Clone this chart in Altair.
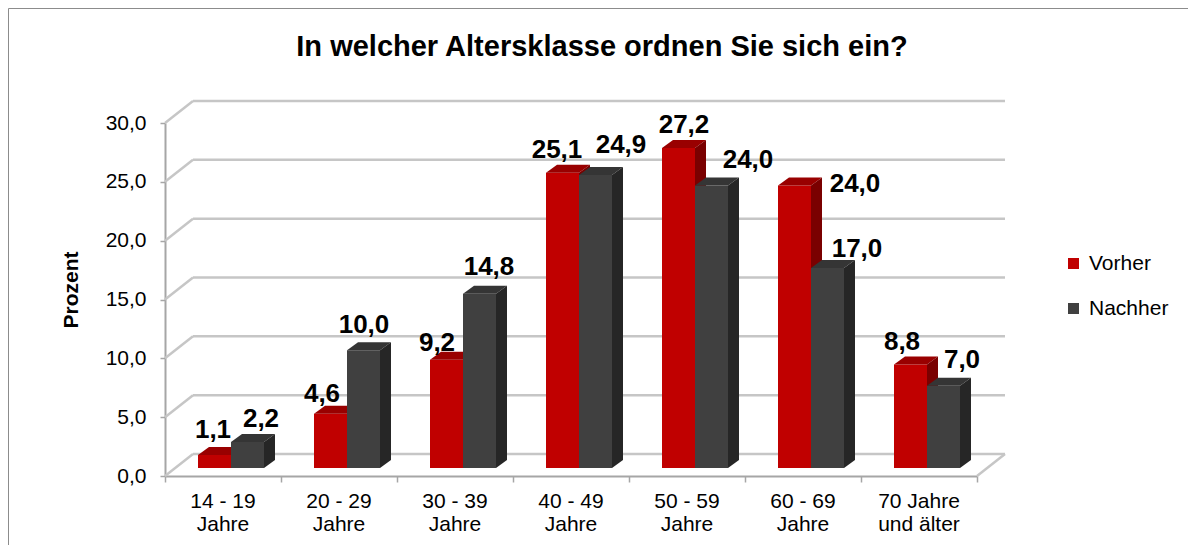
import altair as alt
import pandas as pd

# ---------------- data ----------------
categories = ["14 - 19\nJahre", "20 - 29\nJahre", "30 - 39\nJahre", "40 - 49\nJahre",
              "50 - 59\nJahre", "60 - 69\nJahre", "70 Jahre\nund älter"]
series_names = ["Vorher", "Nachher"]
vorher = [1.1, 4.6, 9.2, 25.1, 27.2, 24.0, 8.8]
nachher = [2.2, 10.0, 14.8, 24.9, 24.0, 17.0, 7.0]
y_ticks = [0, 5, 10, 15, 20, 25, 30]
title_text = "In welcher Altersklasse ordnen Sie sich ein?"
y_title = "Prozent"

# manual placement of the value labels in the original (pixel nudges)
vorher_label_dx = [-1.5, -8.5, -9.5, -5.5, 5.5, 60.5, -8.5]
vorher_label_dy = [-17, -12, -9, -15, -15, 6, -14]
nachher_label_dx = [13.5, 0.5, 9.5, 25.5, 36.5, 29.5, 18.5]
nachher_label_dy = [-15, -17, -19, -22, -18, -11, -18]

# ---------------- geometry / style ----------------
W, H = 812, 353
N = len(categories)
PXX = W / N            # px per category
PXU = H / 30.0         # px per percent
BAR_START = 33 / PXX
BAR_W = 33 / PXX
DEPTH_X = 11 / PXX
DEPTH_Y = 8 / PXU
LIFT = -8              # bars stand a bit behind the front edge
WALL_DX, WALL_DY = 28, -22
FONT = "Liberation Sans"

colors_front = {"Vorher": "#C00000", "Nachher": "#404040"}
colors_top = {"Vorher": "#990000", "Nachher": "#353535"}
colors_side = {"Vorher": "#7A0000", "Nachher": "#262626"}

xscale = alt.Scale(domain=[0, N], nice=False, zero=False)
yscale = alt.Scale(domain=[0, 30], nice=False, zero=False)
xaxis = alt.Axis(values=list(range(N + 1)), labels=False, title=None, grid=False,
                 tickSize=6, tickColor="#A6A6A6", domainColor="#A6A6A6", domainWidth=2, tickWidth=1.5)
yaxis = alt.Axis(values=y_ticks, title=None, grid=False, tickSize=5, tickColor="#A6A6A6",
                 domainColor="#A6A6A6", domainWidth=2, tickWidth=1.5,
                 labelExpr="replace(format(datum.value, '.1f'), '.', ',')",
                 labelFont=FONT, labelFontSize=21, labelColor="#000000", labelPadding=14)

# ---------------- derived tables ----------------
bars, faces_top, faces_side, labels = [], [], [], []
for s, (name, vals, ldx, ldy) in enumerate([
        ("Vorher", vorher, vorher_label_dx, vorher_label_dy),
        ("Nachher", nachher, nachher_label_dx, nachher_label_dy)]):
    for i, v in enumerate(vals):
        xl = i + BAR_START + s * BAR_W
        xr = xl + BAR_W
        bars.append({"series": name, "xl": xl, "xr": xr, "value": v, "base": 0.0})
        fid = f"{name}-{i}"
        for x, y, y2 in [(xl, v, v), (xl + DEPTH_X, v + DEPTH_Y, v),
                         (xr, v + DEPTH_Y, v), (xr + DEPTH_X, v + DEPTH_Y, v + DEPTH_Y)]:
            faces_top.append({"series": name, "face": fid, "x": x, "y": y, "y2": y2})
        for x, y, y2 in [(xr, v, 0.0), (xr + DEPTH_X, v + DEPTH_Y, DEPTH_Y)]:
            faces_side.append({"series": name, "face": fid, "x": x, "y": y, "y2": y2})
        labels.append({"series": name,
                       "lx": (xl + xr) / 2 + ldx[i] / PXX,
                       "ly": v + (-LIFT - ldy[i]) / PXU,
                       "txt": f"{v:.1f}".replace(".", ",")})

bars = pd.DataFrame(bars)
faces_top = pd.DataFrame(faces_top)
faces_side = pd.DataFrame(faces_side)
labels = pd.DataFrame(labels)
grid_df = pd.DataFrame({"v": y_ticks})
cat_df = pd.DataFrame({"cat": categories, "x": [i + 0.5 for i in range(N)]})
title_df = pd.DataFrame({"t": [title_text], "yt": [y_title]})

# ---------------- layers ----------------
border = alt.Chart(title_df).mark_rect(fill=None, stroke="#8C8C8C", strokeWidth=1).encode(
    x=alt.value(-156.5), x2=alt.value(1100), y=alt.value(-114.5), y2=alt.value(600))

back_lines = alt.Chart(grid_df).mark_rule(color="#C6C6C6", strokeWidth=2.5, yOffset=WALL_DY).encode(
    x=alt.value(WALL_DX), x2=alt.value(W + WALL_DX),
    y=alt.Y("v:Q", scale=yscale, axis=yaxis))
connectors = alt.Chart(grid_df).mark_rule(color="#C6C6C6", strokeWidth=2.5, y2Offset=WALL_DY).encode(
    x=alt.value(0), x2=alt.value(WALL_DX),
    y=alt.Y("v:Q", scale=yscale, axis=yaxis), y2="v:Q")
floor_right = alt.Chart(grid_df).transform_filter("datum.v == 0").mark_rule(
    color="#C6C6C6", strokeWidth=2.5, y2Offset=WALL_DY).encode(
    x=alt.value(W), x2=alt.value(W + WALL_DX),
    y=alt.Y("v:Q", scale=yscale, axis=yaxis), y2="v:Q")

color_enc = alt.Color("series:N",
                      scale=alt.Scale(domain=series_names, range=[colors_front[n] for n in series_names]),
                      legend=alt.Legend(orient="none", legendX=898, legendY=130, title=None,
                                        symbolType="square", symbolSize=121, symbolStrokeWidth=0,
                                        labelFont=FONT, labelFontSize=21, labelColor="#000000",
                                        rowPadding=23, labelOffset=5, padding=0))

bar_layers = []
for name in series_names:
    front = alt.Chart(bars).transform_filter(f"datum.series == '{name}'").mark_rect(
        yOffset=LIFT, y2Offset=LIFT).encode(
        x=alt.X("xl:Q", scale=xscale, axis=xaxis), x2="xr:Q",
        y=alt.Y("value:Q", scale=yscale, axis=yaxis), y2="base:Q",
        color=color_enc)
    top = alt.Chart(faces_top).transform_filter(f"datum.series == '{name}'").mark_area(
        color=colors_top[name], yOffset=LIFT, y2Offset=LIFT).encode(
        x=alt.X("x:Q", scale=xscale, axis=xaxis),
        y=alt.Y("y:Q", scale=yscale, axis=yaxis), y2="y2:Q", detail="face:N")
    side = alt.Chart(faces_side).transform_filter(f"datum.series == '{name}'").mark_area(
        color=colors_side[name], yOffset=LIFT, y2Offset=LIFT).encode(
        x=alt.X("x:Q", scale=xscale, axis=xaxis),
        y=alt.Y("y:Q", scale=yscale, axis=yaxis), y2="y2:Q", detail="face:N")
    bar_layers += [front, top, side]

value_labels = alt.Chart(labels).mark_text(
    font=FONT, fontSize=26, fontWeight="bold", color="#000000", align="center", baseline="alphabetic").encode(
    x=alt.X("lx:Q", scale=xscale, axis=xaxis),
    y=alt.Y("ly:Q", scale=yscale, axis=yaxis), text="txt:N")

cat_labels = alt.Chart(cat_df).mark_text(
    font=FONT, fontSize=21, color="#000000", align="center", baseline="alphabetic",
    lineBreak="\n", lineHeight=23).encode(
    x=alt.X("x:Q", scale=xscale, axis=xaxis), y=alt.value(385), text="cat:N")

title = alt.Chart(title_df).mark_text(
    font=FONT, fontSize=29, fontWeight="bold", color="#000000", align="center", baseline="alphabetic").encode(
    x=alt.value(437), y=alt.value(-67), text="t:N")

ytitle = alt.Chart(title_df).mark_text(
    font=FONT, fontSize=21, fontWeight="bold", color="#000000", align="center", baseline="middle",
    angle=270).encode(x=alt.value(-93), y=alt.value(167), text="yt:N")

chart = alt.layer(
    border, back_lines, connectors, floor_right, *bar_layers, value_labels, cat_labels, title, ytitle
).properties(
    width=W, height=H,
    padding={"left": 157, "top": 115, "right": 211, "bottom": 69},
    autosize=alt.AutoSizeParams(type="none"),
    background="#FFFFFF",
).configure_view(strokeWidth=0)

chart.save("out.html", embed_options={"renderer": "svg", "actions": False})
